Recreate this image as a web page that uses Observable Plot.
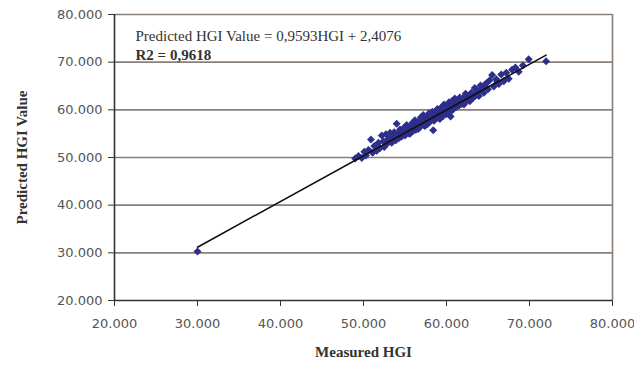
<!DOCTYPE html>
<html>
<head>
<meta charset="utf-8">
<script src="https://cdn.jsdelivr.net/npm/d3@7"></script>
<script src="https://cdn.jsdelivr.net/npm/@observablehq/plot@0.6"></script>
<style>
  html, body { margin: 0; padding: 0; background: #fff; }
  #chart svg { display: block; }
</style>
</head>
<body>
<div id="chart"></div>
<script>
const measured = [
  49.0, 49.4, 49.8, 50.1, 50.3, 50.6, 50.9, 51.1, 51.3, 51.6, 51.8, 52.0, 52.2, 52.4, 52.5, 52.7, 52.9, 53.0, 53.2, 53.4,
  53.5, 53.7, 53.9, 54.0, 54.1, 54.3, 54.4, 54.6, 54.7, 54.9, 55.0, 55.1, 55.2, 55.4, 55.5, 55.6, 55.8, 55.9, 56.0, 56.1,
  56.2, 56.3, 56.5, 56.6, 56.7, 56.8, 56.9, 57.0, 57.1, 57.2, 57.3, 57.4, 57.5, 57.6, 57.7, 57.8, 57.9, 58.0, 58.1, 58.2,
  58.3, 58.4, 58.5, 58.6, 58.7, 58.8, 58.9, 59.0, 59.1, 59.2, 59.3, 59.4, 59.5, 59.6, 59.7, 59.8, 59.9, 60.0, 60.1, 60.2,
  60.3, 60.4, 60.5, 60.6, 60.7, 60.8, 60.9, 61.0, 61.2, 61.3, 61.5, 61.6, 61.8, 62.0, 62.1, 62.3, 62.5, 62.6, 62.8, 63.0,
  63.2, 63.4, 63.5, 63.7, 63.9, 64.1, 64.3, 64.5, 64.8, 65.0, 65.2, 65.5, 65.7, 66.0, 66.3, 66.6, 66.9, 67.2, 67.5, 67.9,
  68.3, 68.7, 69.2, 69.9, 72.0, 30.0,
  55.3, 56.4, 57.0, 57.6, 58.0, 58.5, 59.0, 59.5, 60.0, 60.3, 61.0, 61.4, 62.2, 56.7, 57.4, 58.2, 59.2, 60.7, 62.9, 63.8,
  64.6, 66.1, 58.9, 55.8, 54.2
];
const predicted = [
  49.8, 50.3, 49.9, 51.2, 50.4, 51.6, 53.8, 51.0, 52.4, 51.4, 53.1, 52.0, 54.6, 53.4, 52.2, 54.9, 53.0, 53.9, 55.2, 53.1,
  54.5, 55.3, 53.6, 57.1, 55.0, 54.1, 55.9, 54.4, 55.6, 56.3, 54.6, 55.9, 56.8, 55.1, 56.2, 55.0, 56.7, 57.3, 55.6, 56.4,
  57.8, 55.8, 57.1, 56.0, 57.6, 56.5, 58.4, 56.7, 57.6, 58.9, 56.8, 57.9, 57.2, 58.6, 57.0, 58.2, 59.3, 57.5, 58.5, 57.8,
  59.6, 55.7, 58.9, 58.0, 59.5, 58.3, 60.2, 58.6, 59.4, 58.1, 60.4, 59.0, 60.0, 58.7, 61.1, 59.4, 60.3, 59.1, 60.9, 59.6,
  61.6, 60.1, 58.6, 60.8, 59.9, 61.3, 60.4, 62.4, 60.6, 61.7, 60.9, 62.6, 61.2, 62.3, 61.1, 63.4, 62.0, 62.9, 61.8, 63.6,
  62.5, 64.6, 63.0, 64.1, 62.9, 65.1, 64.4, 63.6, 65.6, 64.3, 66.2, 67.3, 64.9, 66.4, 65.4, 67.4, 66.0, 67.8, 66.5, 68.4,
  68.9, 68.0, 69.3, 70.6, 70.2, 30.3,
  55.9, 56.9, 57.8, 57.3, 58.6, 57.7, 59.8, 58.9, 60.6, 59.8, 61.4, 61.9, 62.8, 57.0, 56.6, 59.0, 59.9, 61.9, 63.1, 63.7,
  65.2, 65.9, 58.4, 55.4, 54.7
];
const trendSlope = 0.9593;
const trendIntercept = 2.4076;
const trendX = [30, 72];
const xTicks = [20, 30, 40, 50, 60, 70, 80];
const yTicks = [20, 30, 40, 50, 60, 70, 80];
const gridY = [30, 40, 50, 60, 70, 80];
const equationText = "Predicted HGI Value = 0,9593HGI + 2,4076";
const r2Text = "R2 = 0,9618";
const xTitle = "Measured HGI";
const yTitle = "Predicted HGI Value";

const points = measured.map((m, i) => ({m, p: predicted[i]}));
const trend = trendX.map(x => ({x, y: trendSlope * x + trendIntercept}));
const fmt = d3.format(".3f");

const chart = Plot.plot({
  width: 634,
  height: 365,
  marginLeft: 114,
  marginRight: 22,
  marginTop: 14,
  marginBottom: 65,
  style: {fontFamily: "DejaVu Sans", fontSize: "13px", color: "#555", background: "#fff", overflow: "visible"},
  x: {domain: [20, 80]},
  y: {domain: [20, 80]},
  marks: [
    Plot.ruleY(gridY, {stroke: "#8a8078", strokeWidth: 1.6}),
    Plot.ruleX([80], {y1: 20, y2: 80, stroke: "#8a8078", strokeWidth: 1.6}),
    Plot.axisX({ticks: xTicks, tickFormat: fmt, tickSize: 6, tickPadding: 12, stroke: "#333", fill: "#555", label: null}),
    Plot.axisY({ticks: yTicks, tickFormat: fmt, tickSize: 6, tickPadding: 6, stroke: "#333", fill: "#555", label: null}),
    Plot.ruleX([20], {y1: 20, y2: 80, stroke: "#333", strokeWidth: 1.6}),
    Plot.ruleY([20], {x1: 20, x2: 80, stroke: "#333", strokeWidth: 1.6}),
    Plot.dot(points, {x: "m", y: "p", symbol: "diamond2", r: 3.6, fill: "#2e2f8c", stroke: "none"}),
    Plot.line(trend, {x: "x", y: "y", stroke: "#111", strokeWidth: 1.6}),
    Plot.text([equationText], {frameAnchor: "top-left", dx: 21, dy: 16, textAnchor: "start", fontFamily: "Liberation Serif", fontSize: 15, fill: "#333"}),
    Plot.text([r2Text], {frameAnchor: "top-left", dx: 21, dy: 35, textAnchor: "start", fontFamily: "Liberation Serif", fontSize: 15, fontWeight: "bold", fill: "#333"}),
    Plot.text([xTitle], {frameAnchor: "bottom", dy: 56, fontFamily: "Liberation Serif", fontSize: 15, fontWeight: "bold", fill: "#333"}),
    Plot.text([yTitle], {frameAnchor: "left", dx: -92, rotate: -90, textAnchor: "middle", fontFamily: "Liberation Serif", fontSize: 15, fontWeight: "bold", fill: "#333"})
  ]
});
document.getElementById("chart").appendChild(chart);
</script>
</body>
</html>
